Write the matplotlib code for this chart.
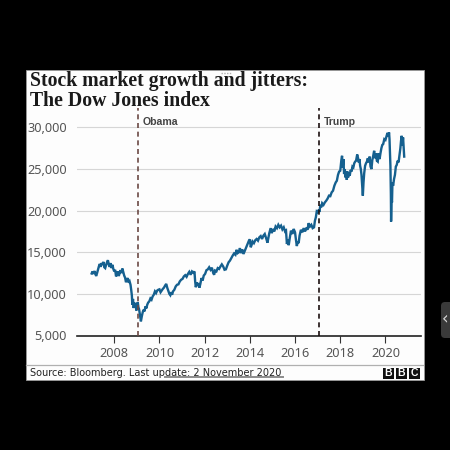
import matplotlib.pyplot as plt
from matplotlib.patches import FancyBboxPatch, Rectangle

# Dow Jones index
years = [2007.0, 2007.04, 2007.08, 2007.12, 2007.16, 2007.2, 2007.24, 2007.28, 2007.32, 2007.36,
         2007.4, 2007.44, 2007.48, 2007.52, 2007.56, 2007.6, 2007.64, 2007.68, 2007.72, 2007.76,
         2007.8, 2007.84, 2007.88, 2007.92, 2007.96, 2008.0, 2008.04, 2008.08, 2008.12, 2008.16,
         2008.2, 2008.24, 2008.28, 2008.32, 2008.36, 2008.4, 2008.44, 2008.48, 2008.52, 2008.56,
         2008.6, 2008.64, 2008.68, 2008.72, 2008.75, 2008.78, 2008.8, 2008.83, 2008.86, 2008.89,
         2008.92, 2008.95, 2008.98, 2009.01, 2009.04, 2009.07, 2009.1, 2009.14, 2009.18, 2009.22,
         2009.26, 2009.3, 2009.34, 2009.38, 2009.42, 2009.46, 2009.5, 2009.55, 2009.6, 2009.65,
         2009.7, 2009.75, 2009.8, 2009.85, 2009.9, 2009.95, 2010.0, 2010.05, 2010.1, 2010.15,
         2010.2, 2010.25, 2010.3, 2010.35, 2010.4, 2010.44, 2010.48, 2010.52, 2010.56, 2010.6,
         2010.66, 2010.72, 2010.78, 2010.84, 2010.9, 2010.96, 2011.02, 2011.08, 2011.14, 2011.2,
         2011.26, 2011.32, 2011.38, 2011.44, 2011.5, 2011.55, 2011.58, 2011.61, 2011.65, 2011.69,
         2011.73, 2011.77, 2011.81, 2011.86, 2011.91, 2011.96, 2012.02, 2012.08, 2012.14, 2012.2,
         2012.26, 2012.32, 2012.38, 2012.42, 2012.46, 2012.52, 2012.58, 2012.64, 2012.7, 2012.76,
         2012.82, 2012.88, 2012.94, 2013.0, 2013.06, 2013.12, 2013.18, 2013.24, 2013.3, 2013.36,
         2013.41, 2013.46, 2013.51, 2013.56, 2013.61, 2013.66, 2013.72, 2013.78, 2013.84, 2013.9,
         2013.96, 2014.0, 2014.04, 2014.08, 2014.12, 2014.18, 2014.24, 2014.3, 2014.36, 2014.42,
         2014.48, 2014.54, 2014.6, 2014.66, 2014.72, 2014.78, 2014.82, 2014.86, 2014.92, 2014.97,
         2015.02, 2015.08, 2015.14, 2015.2, 2015.26, 2015.32, 2015.38, 2015.44, 2015.5, 2015.56,
         2015.6, 2015.64, 2015.68, 2015.72, 2015.76, 2015.82, 2015.88, 2015.94, 2016.0, 2016.04,
         2016.08, 2016.12, 2016.16, 2016.2, 2016.26, 2016.32, 2016.38, 2016.44, 2016.5, 2016.55,
         2016.6, 2016.66, 2016.72, 2016.78, 2016.84, 2016.88, 2016.92, 2016.96, 2017.0, 2017.04,
         2017.08, 2017.12, 2017.16, 2017.2, 2017.26, 2017.32, 2017.38, 2017.44, 2017.5, 2017.56,
         2017.62, 2017.68, 2017.74, 2017.8, 2017.85, 2017.9, 2017.95, 2018.0, 2018.05, 2018.08,
         2018.11, 2018.14, 2018.17, 2018.2, 2018.23, 2018.26, 2018.29, 2018.32, 2018.35, 2018.38,
         2018.42, 2018.46, 2018.5, 2018.54, 2018.58, 2018.62, 2018.66, 2018.7, 2018.75, 2018.79,
         2018.82, 2018.85, 2018.88, 2018.91, 2018.94, 2018.97, 2019.0, 2019.03, 2019.06, 2019.1,
         2019.14, 2019.18, 2019.22, 2019.26, 2019.3, 2019.34, 2019.38, 2019.42, 2019.46, 2019.5,
         2019.54, 2019.58, 2019.62, 2019.66, 2019.7, 2019.74, 2019.78, 2019.82, 2019.86, 2019.9,
         2019.95, 2020.0, 2020.05, 2020.09, 2020.13, 2020.16, 2020.18, 2020.2, 2020.22, 2020.24,
         2020.25, 2020.27, 2020.29, 2020.31, 2020.34, 2020.38, 2020.42, 2020.46, 2020.5, 2020.54,
         2020.58, 2020.62, 2020.66, 2020.69, 2020.72, 2020.75, 2020.78, 2020.81, 2020.83]
dow = [12450, 12700, 12400, 12750, 12450, 12150, 12500, 12900, 13300, 13600,
       13250, 13700, 13500, 13850, 13200, 13100, 13500, 13800, 14050, 13500,
       13250, 13700, 13100, 13500, 13000, 12700, 12900, 12100, 12350, 12700,
       12150, 12500, 12850, 12500, 13050, 12650, 12200, 11950, 11400, 11700,
       11900, 11350, 11500, 11100, 10500, 9800, 8700, 9400, 8300, 8950,
       8350, 8700, 8000, 8700, 9000, 8400, 8150, 7450, 6700, 7300,
       7800, 8100, 7900, 8500, 8250, 8700, 8950, 9100, 9450, 9300,
       9700, 9900, 10300, 10100, 10400, 10500, 10550, 10200, 10400, 10600,
       10750, 11000, 11200, 10700, 10300, 10000, 9850, 10200, 9900, 10300,
       10500, 10900, 11100, 11150, 11500, 11700, 11800, 12100, 12250, 12050,
       12400, 12650, 12300, 12700, 12550, 12700, 11500, 10800, 11400, 10950,
       11300, 10750, 11200, 11900, 11600, 12200, 12400, 12850, 12950, 13200,
       12900, 13150, 12500, 12300, 12800, 12700, 13100, 13000, 13300, 13550,
       13300, 12900, 12950, 13400, 13800, 14000, 14300, 14600, 14850, 14700,
       15300, 14900, 15000, 15500, 14900, 15350, 14800, 15200, 15600, 16000,
       16400, 16550, 15600, 15900, 16300, 16100, 16450, 16600, 16400, 16800,
       16950, 16600, 17000, 17200, 16700, 16150, 16700, 17300, 17900, 17300,
       17800, 17500, 18100, 17900, 18300, 18000, 18200, 17750, 18000, 17500,
       17600, 16000, 16500, 15850, 16600, 17600, 17200, 17800, 17400, 16500,
       15750, 16300, 16100, 17000, 17700, 17400, 17900, 17500, 17950, 17700,
       18500, 18100, 18300, 17900, 18000, 18800, 19200, 19900, 19800, 20100,
       19850, 20700, 20400, 20900, 20700, 21000, 21200, 21450, 21800, 21750,
       22200, 22400, 23000, 23400, 23600, 24300, 24700, 24800, 26100, 26600,
       25200, 26200, 24400, 25000, 24000, 24700, 23700, 24700, 24000, 24600,
       24200, 24900, 24700, 25300, 25200, 25700, 25900, 26000, 26750, 26300,
       25800, 26200, 25400, 25000, 24300, 23000, 21800, 23400, 24500, 25400,
       25700, 25900, 26300, 25800, 26500, 25300, 25000, 26100, 26600, 27200,
       26300, 26900, 26000, 25900, 26900, 26200, 26900, 27500, 27900, 28000,
       28600, 28500, 29000, 29350, 28900, 29400, 28600, 27000, 25400, 22000,
       18700, 21500, 21000, 23400, 23000, 23800, 24300, 25300, 25500, 26000,
       25800, 26700, 27500, 28400, 29000, 27800, 28800, 27500, 26500]

x_ticks = [2008, 2010, 2012, 2014, 2016, 2018, 2020]
y_ticks = [5000, 10000, 15000, 20000, 25000, 30000]
presidents = ["Obama", "Trump"]
president_starts = [2009.05, 2017.07]
president_colors = ["#6b4a45", "#1c1010"]

fig = plt.figure(figsize=(4.5, 4.5), dpi=100, facecolor="black")

# card, footer and side tab, in pixel coordinates
bg = fig.add_axes([0, 0, 1, 1])
bg.set_xlim(0, 450)
bg.set_ylim(450, 0)
bg.axis("off")
bg.add_patch(Rectangle((26, 69.5), 397.5, 310.5, facecolor="#fdfdfd", edgecolor="#9a9a9a", linewidth=0.6))
bg.plot([26, 423], [365, 365], color="#b0b0b0", linewidth=0.9)
bg.plot([165, 283], [376.5, 376.5], color="#8c8c8c", linewidth=1.4)
bg.plot([221, 231], [72.5, 72.5], color="#b0b0b0", linewidth=1, linestyle=(0, (1, 1)))
bg.add_patch(FancyBboxPatch((441, 302), 14, 36, boxstyle="round,pad=0,rounding_size=4",
                            facecolor="#3a3a3a", edgecolor="none"))
bg.text(445.5, 319.5, "\u2039", color="#d8d8d8", fontsize=12, ha="center", va="center")

bg.text(29.5, 91, "Stock market growth and jitters:\nThe Dow Jones index", family="Liberation Serif",
        fontsize=14.2, fontweight="bold", color="#1a1a1a", va="center", linespacing=0.98)
bg.text(30.5, 372.5, "Source: Bloomberg. Last update: 2 November 2020", family="DejaVu Sans",
        fontsize=7.05, color="#222222", va="center")

for i, letter in enumerate("BBC"):
    bg.add_patch(Rectangle((382.5 + i * 13.2, 368), 11.5, 10.5, facecolor="#111111", edgecolor="none"))
    bg.text(388.2 + i * 13.2, 373.4, letter, family="Liberation Sans", fontsize=7.5, fontweight="bold",
            color="white", ha="center", va="center")

ax = fig.add_axes([76.5 / 450, (450 - 335.5) / 450, 344.2 / 450, 227.5 / 450])
ax.patch.set_alpha(0)
ax.plot(years, dow, color="#15608f", linewidth=1.7, solid_joinstyle="miter", zorder=3)
ax.set_xlim(2006.33, 2021.56)
ax.set_ylim(5000, 32340)

ax.set_xticks(x_ticks)
ax.set_yticks(y_ticks)
ax.set_yticklabels([f"{v:,}" for v in y_ticks])
for label in ax.get_xticklabels() + ax.get_yticklabels():
    label.set_family("Noto Sans")
ax.tick_params(axis="x", length=5, width=0.8, color="#333333", labelsize=9.2, labelcolor="#555555", pad=3)
ax.tick_params(axis="y", length=0, labelsize=9.2, labelcolor="#555555", pad=7)
ax.grid(axis="y", color="#d6d6d6", linewidth=0.8)
ax.set_axisbelow(True)

for side in ["top", "right", "left"]:
    ax.spines[side].set_visible(False)
ax.spines["bottom"].set_color("#222222")
ax.spines["bottom"].set_linewidth(1.2)

for name, start, color in zip(presidents, president_starts, president_colors):
    ax.axvline(start, color=color, linewidth=1.2, linestyle=(0, (3, 2.2)), zorder=4)
    ax.text(start + 0.22, 30700, name, family="Liberation Sans", fontsize=7.6, fontweight="bold",
            color="#444444", va="center")

fig.savefig("out.png", dpi=100, facecolor="black")
plt.close(fig)
